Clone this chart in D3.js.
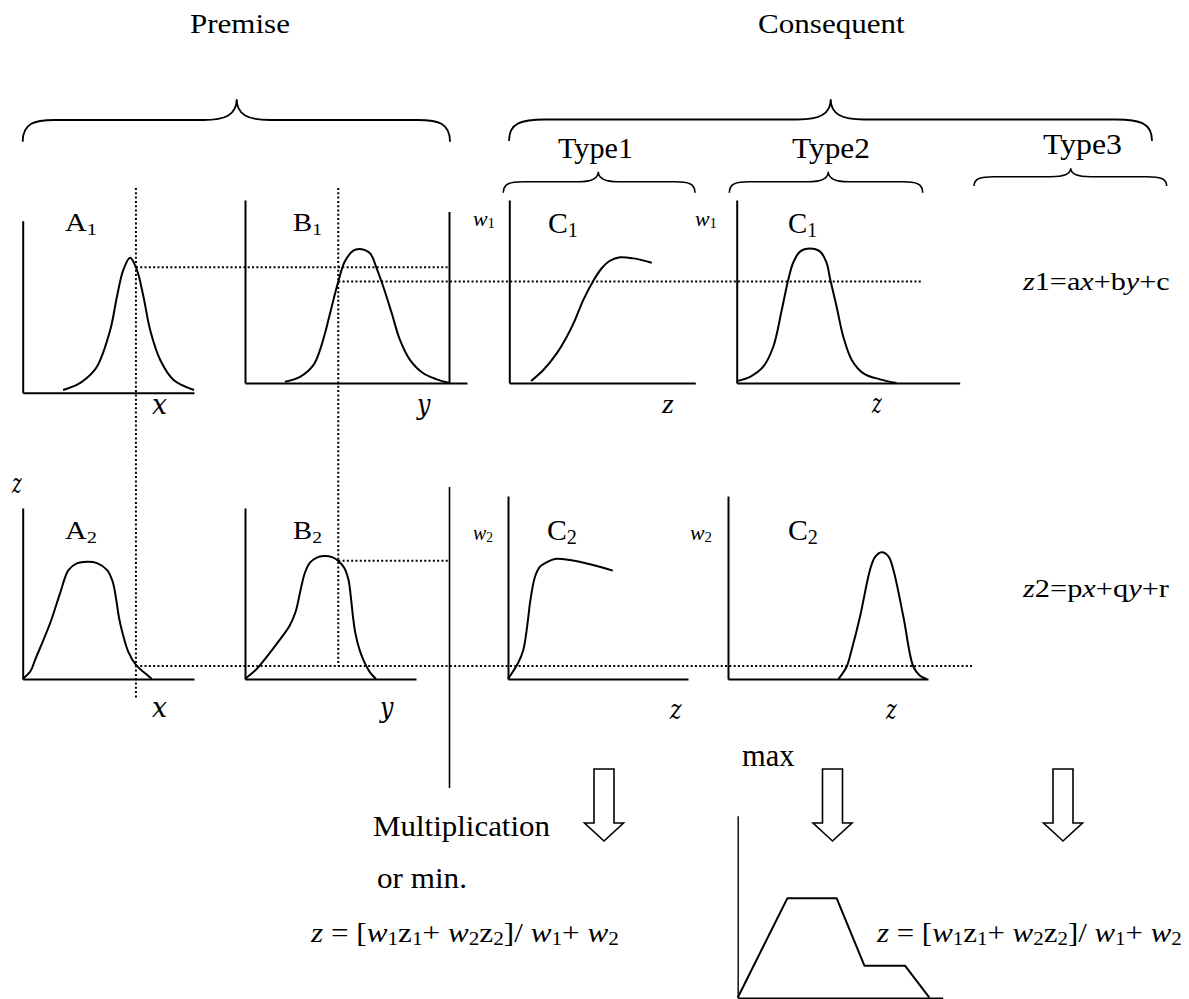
<!DOCTYPE html>
<html><head><meta charset="utf-8">
<script src="https://cdn.jsdelivr.net/npm/d3@7"></script>
<style>body{margin:0;background:#fff} text{white-space:pre}</style>
</head><body>
<svg id="c" width="1189" height="999" xmlns="http://www.w3.org/2000/svg"></svg>
<script>
// ---------------- DATA ----------------
const headers = ["Premise", "Consequent"];
const typeLabels = ["Type1", "Type2", "Type3"];
const bottomTexts = ["Multiplication", "or min.", "max"];

// membership curves: [input value (0..10), membership (0..1)]
const curveA1 = [[2.36,0.016],[3.16,0.045],[3.74,0.085],[4.33,0.151],[5.11,0.365],[5.50,0.558],[5.87,0.713],[6.27,0.785],[6.67,0.713],[7.05,0.558],[7.44,0.365],[8.03,0.19],[8.81,0.074],[10.0,0.016]];
const curveB1 = [[1.80,0.007],[2.48,0.034],[3.08,0.098],[3.35,0.17],[3.6,0.27],[3.85,0.39],[4.20,0.553],[4.50,0.665],[4.88,0.723],[5.18,0.732],[5.63,0.709],[5.93,0.627],[6.23,0.526],[6.61,0.381],[6.98,0.235],[7.43,0.126],[8.03,0.053],[8.64,0.020],[9.19,0.0]];
const curveC1t1 = [[1.17,0.011],[1.83,0.071],[2.55,0.162],[3.09,0.253],[3.53,0.344],[3.98,0.454],[4.52,0.559],[4.97,0.627],[5.41,0.668],[5.95,0.687],[6.67,0.681],[7.66,0.657]];
const curveC1t2 = [[0,0.011],[0.6,0.034],[1.19,0.089],[1.64,0.198],[2.02,0.399],[2.31,0.563],[2.54,0.66],[2.84,0.718],[3.29,0.735],[3.74,0.718],[4.02,0.66],[4.2,0.563],[4.48,0.417],[4.78,0.253],[5.16,0.126],[5.68,0.053],[6.43,0.020],[7.17,0.0]];
const curveA2 = [[0,0],[0.45,0.045],[0.72,0.111],[1.6,0.326],[2.18,0.501],[2.67,0.637],[3.16,0.676],[3.76,0.686],[4.34,0.678],[4.93,0.637],[5.25,0.57],[5.45,0.47],[5.62,0.36],[5.85,0.26],[6.16,0.16],[6.61,0.082],[7.15,0.033],[7.54,0.0]];
const curveB2 = [[0,0],[0.7,0.06],[1.27,0.13],[1.93,0.216],[2.6,0.31],[2.95,0.39],[3.25,0.52],[3.5,0.62],[3.8,0.68],[4.2,0.71],[4.58,0.719],[5.09,0.713],[5.44,0.692],[5.8,0.65],[6.05,0.58],[6.2,0.47],[6.32,0.36],[6.45,0.27],[6.7,0.17],[7.0,0.094],[7.3,0.04],[7.66,0.0]];
const curveC2t1 = [[0,0],[0.56,0.087],[0.85,0.158],[1.13,0.34],[1.22,0.415],[1.5,0.559],[1.78,0.614],[2.17,0.639],[2.61,0.656],[3.44,0.650],[4.72,0.623],[5.82,0.592]];
const curveC2t2 = [[5.52,0],[5.93,0.067],[6.18,0.158],[6.6,0.34],[7.1,0.596],[7.35,0.666],[7.68,0.692],[8.02,0.67],[8.27,0.596],[8.77,0.34],[9.27,0.067],[9.6,0.018],[9.93,0.0]];
const curveResult = [[0,0],[2.42,0.546],[4.83,0.546],[6.18,0.176],[8.16,0.176],[9.35,0.0]];

// inputs and firing strengths
const inputX = 6.61;   // on A scale
const inputY = 4.20;   // on B1 scale
const muA1 = 0.729, muB1 = 0.554, muA2 = 0.076, muB2 = 0.692;

// labels (segments: [text, style] ; i = italic, s = subscript)
const panelLabels = {
  A1: [["A",""],["1","s"]], B1: [["B",""],["1","s"]], C1t1: [["C",""],["1","s"]], C1t2: [["C",""],["1","s"]],
  A2: [["A",""],["2","s"]], B2: [["B",""],["2","s"]], C2t1: [["C",""],["2","s"]], C2t2: [["C",""],["2","s"]]
};
const weightLabels = [[["w","i"],["1","s"]], [["w","i"],["2","s"]]];
const axisLabels = ["x", "y", "z"];
const ruleFormulas = [
  [["z","i"],["1=a",""],["x","i"],["+b",""],["y","i"],["+c",""]],
  [["z","i"],["2=p",""],["x","i"],["+q",""],["y","i"],["+r",""]]
];
const outFormula = [["z","i"],[" = [",""],["w","i"],["1","s"],["z",""],["1","s"],["+ ",""],["w","i"],["2","s"],["z",""],["2","s"],["]/ ",""],["w","i"],["1","s"],["+ ",""],["w","i"],["2","s"]];

// ---------------- LAYOUT ----------------
const svg = d3.select("#c");
const SERIF = "Liberation Serif, serif";
const MATH = "DejaVu Serif, serif";

const panelBox = {
  A1:{x0:22.7,y0:392.7,w:171.3,h:172}, B1:{x0:245,y0:383,w:222,h:183},
  C1t1:{x0:509.3,y0:383,w:186,h:183}, C1t2:{x0:736.7,y0:383,w:223,h:183},
  A2:{x0:22.7,y0:679,w:171.3,h:171}, B2:{x0:245,y0:679,w:171,h:171},
  C2t1:{x0:508,y0:679,w:180,h:183}, C2t2:{x0:728,y0:679,w:200,h:183},
  R:{x0:737.7,y0:997.7,w:205,h:182}
};
const sc = {};
Object.entries(panelBox).forEach(([k,b])=>{
  sc[k] = {x:d3.scaleLinear().domain([0,10]).range([b.x0,b.x0+b.w]),
           y:d3.scaleLinear().domain([0,1]).range([b.y0,b.y0-b.h])};
});

// axes (domain lines only)
Object.entries(panelBox).forEach(([k,b])=>{
  const sw = k==="R" ? 1.4 : 2;
  const gx = svg.append("g").attr("transform",`translate(0,${b.y0})`)
    .call(d3.axisBottom(sc[k].x).tickValues([]).tickSizeOuter(0));
  const gy = svg.append("g").attr("transform",`translate(${b.x0},0)`)
    .call(d3.axisLeft(sc[k].y).tickValues([]).tickSizeOuter(0));
  [gx,gy].forEach(g=>g.select(".domain").attr("stroke","#000").attr("stroke-width",sw));
});

// curves
function drawCurve(key, data, linear){
  const ln = d3.line().x(d=>sc[key].x(d[0])).y(d=>sc[key].y(d[1]))
    .curve(linear ? d3.curveLinear : d3.curveCatmullRom.alpha(0.5));
  svg.append("path").attr("d", ln(data)).attr("fill","none").attr("stroke","#000")
    .attr("stroke-width",2).attr("stroke-linejoin","round");
}
drawCurve("A1",curveA1); drawCurve("B1",curveB1); drawCurve("C1t1",curveC1t1); drawCurve("C1t2",curveC1t2);
drawCurve("A2",curveA2); drawCurve("B2",curveB2); drawCurve("C2t1",curveC2t1); drawCurve("C2t2",curveC2t2);
drawCurve("R",curveResult,true);

// solid separators
function line(x1,y1,x2,y2,sw,dash){
  const l = svg.append("line").attr("x1",x1).attr("y1",y1).attr("x2",x2).attr("y2",y2)
    .attr("stroke","#000").attr("stroke-width",sw);
  if (dash) l.attr("stroke-dasharray",dash);
  return l;
}
const barX = 449.5;
line(barX,212,barX,383,2);
line(barX,487,barX,788,1.6);

// dotted guide lines
const DOT = "2 2.3";
const vx1 = sc.A1.x(inputX), vx2 = sc.B1.x(inputY);
line(vx1,188,vx1,698,2,DOT);
line(vx2,188,vx2,sc.A2.y(muA2),2,DOT);
line(vx1,sc.A1.y(muA1),barX,sc.A1.y(muA1),2,DOT);
line(vx2,sc.B1.y(muB1),921,sc.B1.y(muB1),2,DOT);
line(vx1,sc.A2.y(muA2),972,sc.A2.y(muA2),2,DOT);
line(vx2,sc.B2.y(muB2),barX,sc.B2.y(muB2),2,DOT);

// braces
function brace(x1,x2,xm,yE,yM,yT,r,r2,sw){
  const d = `M${x1},${yE} C${x1},${yM+(yE-yM)*0.15} ${x1+r*0.35},${yM} ${x1+r},${yM} L${xm-r2},${yM} `+
    `C${xm-r2*0.35},${yM} ${xm},${yM-(yM-yT)*0.25} ${xm},${yT} `+
    `C${xm},${yM-(yM-yT)*0.25} ${xm+r2*0.35},${yM} ${xm+r2},${yM} L${x2-r},${yM} `+
    `C${x2-r*0.35},${yM} ${x2},${yM+(yE-yM)*0.15} ${x2},${yE}`;
  svg.append("path").attr("d",d).attr("fill","none").attr("stroke","#000").attr("stroke-width",sw);
}
brace(22.7,450,236.7,141.7,120,99.3,32,33,1.8);
brace(509,1152,830.7,141,119.5,99.3,36,33,1.8);
brace(503.3,695,598.3,192.7,181.7,171.7,20,20,1.6);
brace(729.3,922.7,828.3,192.7,181.7,171.7,20,20,1.6);
brace(974,1166.7,1070.7,186,176.7,168.3,20,20,1.6);

// block arrows
function arrow(cx){
  const top=769, sb=823, tip=841, hw=10, hh=19.5;
  const pts=[[cx-hw,top],[cx+hw,top],[cx+hw,sb],[cx+hh,sb],[cx,tip],[cx-hh,sb],[cx-hw,sb]];
  svg.append("polygon").attr("points",pts.map(p=>p.join(",")).join(" "))
    .attr("fill","#fff").attr("stroke","#000").attr("stroke-width",1.6).attr("stroke-linejoin","miter");
}
[604,832.5,1063].forEach(arrow);

// text helper with horizontal fit
function rich(segs, x, y, size, family, targetW, subShift){
  const t = svg.append("text").attr("font-size",size).attr("font-family",family).attr("fill","#000");
  let sub=false; const sh = subShift===undefined ? 0.14 : subShift;
  segs.forEach(([s,st])=>{
    const ts = t.append("tspan").text(s);
    const isSub = st.includes("s");
    if (st.includes("i")) ts.attr("font-style","italic");
    if (isSub) ts.attr("font-size", size*0.68);
    if (isSub && !sub) ts.attr("dy", size*sh);
    if (!isSub && sub) ts.attr("dy", -size*sh);
    sub = isSub;
  });
  let sx = 1;
  if (targetW){ const w = t.node().getBBox().width; if (w>0) sx = targetW / w; }
  t.attr("transform", `translate(${x},${y}) scale(${sx},1)`);
  return t;
}
const plain = s => [[s,""]];

rich(plain(headers[0]),190,33,28,SERIF,100);
rich(plain(headers[1]),758,33,28,SERIF,147);
rich(plain(typeLabels[0]),558,158,30,SERIF,75);
rich(plain(typeLabels[1]),792,158,30,SERIF,78);
rich(plain(typeLabels[2]),1043,154,30,SERIF,79);

rich(panelLabels.A1,65,231,25,SERIF,32);
rich(panelLabels.B1,293,231,25,SERIF,29);
rich(panelLabels.C1t1,548,233,30,SERIF,30);
rich(panelLabels.C1t2,788,233,30,SERIF,29);
rich(panelLabels.A2,65,539,25,SERIF,32);
rich(panelLabels.B2,293,539,25,SERIF,29);
rich(panelLabels.C2t1,547,540,30,SERIF,30);
rich(panelLabels.C2t2,788,540,30,SERIF,30);

rich(weightLabels[0],473,226,21,SERIF,22,0.1);
rich(weightLabels[0],695,226,21,SERIF,22,0.1);
rich(weightLabels[1],473,540,21,SERIF,20,0.1);
rich(weightLabels[1],690,540,21,SERIF,22,0.1);

const ax = s => [[s,"i"]];
rich(ax(axisLabels[0]),152,414,27,MATH,15);
rich(ax(axisLabels[1]),417,414,27,MATH,15);
rich(ax(axisLabels[2]),662,413,28,SERIF,13);
rich(ax(axisLabels[2]),872,413,27,MATH,11);
rich(ax(axisLabels[2]),12,493,27,MATH,11);
rich(ax(axisLabels[0]),152,717,27,MATH,15);
rich(ax(axisLabels[1]),380,717,27,MATH,15);
rich(ax(axisLabels[2]),670,719,27,MATH,13);
rich(ax(axisLabels[2]),886,719,27,MATH,12);

rich(ruleFormulas[0],1023,290,25,SERIF,148);
rich(ruleFormulas[1],1023,597,25,SERIF,148);

rich(plain(bottomTexts[2]),742,766,31,SERIF,53);
rich(plain(bottomTexts[0]),373,836,30,SERIF,177);
rich(plain(bottomTexts[1]),377,888,30,SERIF,90);
rich(outFormula,311,942,28,SERIF,309,0.12);
rich(outFormula,877,942,28,SERIF,306,0.12);
</script>
</body></html>
